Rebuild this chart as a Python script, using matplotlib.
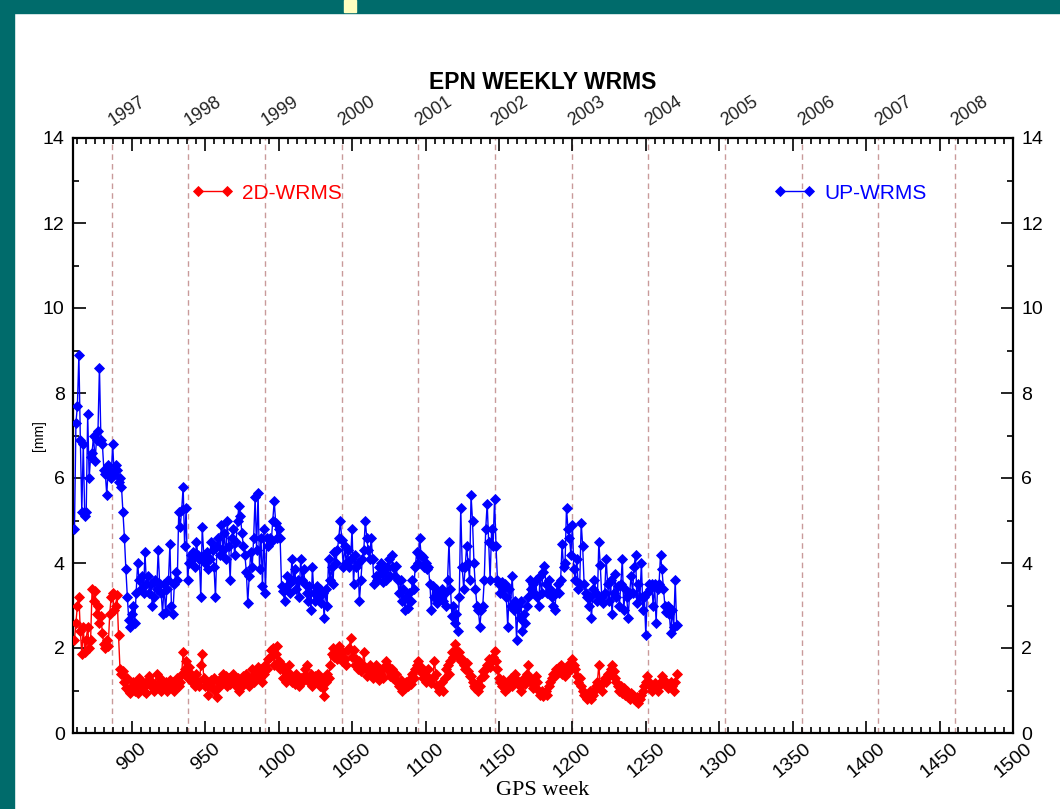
import numpy as np
import matplotlib
matplotlib.use("Agg")
import matplotlib.pyplot as plt
from matplotlib.ticker import MultipleLocator
from matplotlib.patches import Rectangle

plt.rcParams['font.family'] = ['Liberation Sans', 'DejaVu Sans']

# weekly UP-WRMS [mm], GPS weeks 861..1271
up_wrms = [
    4.8, 7.3, 7.7, 8.9, 6.9, 5.2, 6.8, 5.1, 5.2, 7.5,
    6.0, 6.5, 6.6, 7.0, 6.4, 6.9, 7.1, 8.6, 6.9, 6.8,
    6.2, 6.1, 5.6, 6.3, 6.2, 6.0, 6.8, 6.1, 6.3, 6.2,
    5.9, 6.0, 5.8, 5.2, 4.6, 3.85, 3.2, 2.65, 2.5, 2.8,
    3.0, 2.6, 3.3, 4.0, 3.6, 3.4, 3.7, 3.3, 4.25, 3.5,
    3.7, 3.3, 3.5, 3.0, 3.2, 3.6, 3.4, 4.3, 3.5, 3.3,
    2.8, 3.5, 2.85, 3.4, 3.6, 4.45, 3.0, 2.8, 3.5, 3.8,
    3.6, 5.2, 4.85, 5.25, 5.8, 4.4, 5.3, 3.6, 4.0, 4.2,
    4.1, 4.25, 3.9, 4.5, 4.2, 4.1, 3.2, 4.85, 4.2, 4.0,
    4.25, 3.85, 4.1, 4.5, 4.3, 3.9, 3.2, 4.4, 4.6, 4.2,
    4.9, 4.3, 4.7, 4.1, 5.0, 4.4, 3.6, 4.6, 4.8, 4.2,
    4.5, 5.0, 5.35, 5.1, 4.7, 4.4, 4.2, 3.8, 3.07, 3.7,
    4.25, 3.9, 4.6, 5.55, 4.3, 5.65, 3.85, 4.6, 3.45, 4.8,
    3.3, 4.6, 4.4, 4.6, 4.5, 5.0, 5.45, 4.95, 4.6, 4.8,
    4.6, 3.45, 3.35, 3.1, 3.4, 3.7, 3.5, 3.3, 4.1, 3.6,
    3.85, 3.4, 3.6, 3.2, 4.1, 3.6, 3.85, 3.5, 3.3, 3.1,
    3.45, 2.9, 3.9, 3.3, 3.1, 3.45, 3.2, 3.4, 3.05, 3.3,
    2.7, 3.4, 3.0, 4.1, 3.6, 3.9, 3.5, 4.25, 4.0, 4.3,
    4.6, 5.0, 4.55, 3.9, 4.4, 4.0, 4.3, 3.9, 4.1, 4.8,
    3.5, 4.2, 3.9, 4.0, 3.1, 3.6, 4.1, 4.3, 5.0, 4.6,
    4.3, 4.1, 4.6, 4.1, 3.5, 3.7, 3.6, 3.9, 3.75, 4.0,
    3.55, 3.8, 3.6, 3.9, 4.1, 3.7, 4.2, 3.9, 3.7, 3.92,
    3.6, 3.3, 3.6, 3.1, 3.4, 2.9, 3.2, 2.95, 3.3, 3.1,
    3.6, 3.4, 3.9, 4.25, 4.0, 4.6, 4.2, 4.15, 3.9, 4.0,
    3.85, 3.9, 3.5, 2.9, 3.45, 3.2, 3.4, 3.05, 3.3, 3.2,
    3.4, 3.1, 3.3, 3.0, 3.6, 4.5, 3.4, 2.75, 3.0, 2.6,
    2.8, 2.4, 3.2, 5.3, 3.9, 3.4, 3.9, 4.4, 4.0, 3.6,
    5.6, 5.0, 4.0, 3.4, 3.0, 2.9, 2.5, 2.9, 3.0, 3.6,
    4.8, 5.4, 4.5, 3.6, 4.8, 4.4, 5.5, 4.4, 3.6, 3.5,
    3.3, 3.55, 3.4, 3.5, 3.2, 2.5, 3.4, 3.0, 3.7, 2.9,
    3.1, 2.2, 3.0, 2.7, 3.1, 2.4, 2.8, 2.6, 3.0, 3.2,
    3.6, 3.4, 3.5, 3.3, 3.6, 3.2, 3.0, 3.7, 3.3, 3.8,
    3.92, 3.5, 3.3, 3.6, 3.4, 3.2, 3.0, 2.9, 3.3, 3.5,
    3.3, 3.6, 4.45, 3.9, 4.0, 5.3, 4.8, 4.6, 4.2, 4.9,
    3.85, 3.6, 4.1, 3.4, 3.5, 4.95, 4.4, 3.5, 3.3, 3.2,
    3.0, 3.2, 2.7, 3.4, 3.6, 3.3, 3.1, 4.5, 3.95, 3.2,
    3.05, 3.3, 4.1, 3.5, 3.1, 3.6, 2.8, 3.3, 3.75, 3.2,
    3.45, 3.0, 3.5, 4.1, 2.9, 3.4, 3.2, 2.7, 3.3, 3.7,
    3.3, 3.9, 4.2, 3.05, 3.5, 3.2, 4.0, 2.9, 3.2, 2.3,
    3.3, 3.5, 3.4, 3.5, 3.0, 3.5, 2.6, 3.4, 3.5, 4.2,
    3.85, 3.4, 3.0, 2.85, 3.0, 2.8, 2.35, 2.9, 2.5, 3.6, 2.55,
]

# weekly 2D-WRMS [mm], GPS weeks 861..1271
wrms_2d = [
    2.2, 2.6, 3.0, 3.2, 2.4, 1.85, 2.5, 1.9, 2.2, 2.5,
    2.0, 2.2, 3.4, 3.1, 3.35, 2.8, 3.0, 2.6, 2.75, 2.35,
    2.1, 2.0, 2.2, 2.05, 2.8, 3.2, 3.3, 2.9, 3.0, 3.25,
    2.3, 1.5, 1.4, 1.45, 1.2, 1.05, 1.3, 1.0, 0.95, 1.1,
    1.2, 1.0, 1.15, 0.95, 1.3, 1.1, 1.2, 1.0, 1.1, 0.95,
    1.25, 1.35, 1.1, 1.2, 1.0, 1.15, 1.4, 1.1, 1.3, 1.0,
    1.15, 1.05, 1.2, 1.0, 1.1, 1.25, 1.1, 1.2, 1.0, 1.15,
    1.3, 1.1, 1.2, 1.4, 1.9, 1.5, 1.7, 1.3, 1.55, 1.4,
    1.2, 1.3, 1.1, 1.4, 1.2, 1.1, 1.6, 1.85, 1.3, 1.1,
    1.2, 0.9, 1.1, 1.25, 1.05, 1.3, 1.0, 0.85, 1.2, 1.1,
    1.3, 1.4, 1.2, 1.35, 1.1, 1.3, 1.15, 1.25, 1.4, 1.2,
    1.1, 1.3, 1.0, 1.2, 1.1, 1.35, 1.2, 1.4, 1.25, 1.1,
    1.3, 1.5, 1.2, 1.35, 1.4, 1.55, 1.3, 1.5, 1.2, 1.4,
    1.6, 1.5, 1.75, 1.8, 1.95, 2.0, 1.6, 1.85, 2.05, 1.7,
    1.5, 1.6, 1.3, 1.45, 1.2, 1.35, 1.6, 1.4, 1.2, 1.3,
    1.15, 1.4, 1.25, 1.1, 1.3, 1.2, 1.35, 1.5, 1.6, 1.3,
    1.2, 1.4, 1.1, 1.25, 1.35, 1.2, 1.4, 1.1, 1.3, 1.05,
    0.86, 1.2, 1.4, 1.3, 1.6, 1.85, 2.0, 1.8, 1.9, 1.75,
    2.05, 1.85, 1.7, 1.9, 1.75, 1.6, 1.95, 2.0, 2.24, 1.8,
    1.95, 1.6, 1.75, 1.5, 1.7, 1.45, 1.6, 1.9, 1.55, 1.35,
    1.5, 1.6, 1.4, 1.3, 1.45, 1.6, 1.4, 1.25, 1.5, 1.4,
    1.3, 1.55, 1.7, 1.6, 1.45, 1.35, 1.5, 1.3, 1.25, 1.4,
    1.2, 1.1, 1.25, 1.0, 1.15, 1.05, 1.2, 1.1, 1.25, 1.15,
    1.4, 1.3, 1.5, 1.6, 1.7, 1.45, 1.55, 1.3, 1.4, 1.2,
    1.35, 1.5, 1.25, 1.17, 1.3, 1.7, 1.4, 1.1, 1.0, 1.05,
    1.2, 1.0, 1.3, 1.5, 1.6, 1.4, 1.7, 1.9, 1.8, 2.1,
    1.95, 1.8, 1.9, 1.7, 1.75, 1.6, 1.5, 1.65, 1.45, 1.35,
    1.33, 1.2, 1.1, 1.05, 1.15, 1.0, 1.1, 1.3, 1.45, 1.35,
    1.5, 1.6, 1.75, 1.55, 1.7, 1.8, 1.92, 1.7, 1.5, 1.3,
    1.2, 1.1, 1.25, 1.0, 1.15, 1.05, 1.2, 1.3, 1.1, 1.2,
    1.4, 1.25, 1.15, 1.1, 1.0, 1.2, 1.3, 1.15, 1.4, 1.6,
    1.3, 1.2, 1.05, 1.1, 1.33, 1.2, 1.0, 0.9, 1.0, 0.86,
    0.95, 1.0, 0.9, 1.1, 1.2, 1.3, 1.4, 1.35, 1.5, 1.45,
    1.55, 1.6, 1.4, 1.5, 1.35, 1.55, 1.6, 1.45, 1.55, 1.75,
    1.6, 1.5, 1.35, 1.2, 1.3, 1.1, 1.0, 0.9, 0.85, 0.8,
    0.9, 1.0, 0.8, 0.9, 1.0, 1.1, 1.2, 1.6, 1.1, 1.0,
    1.2, 1.3, 1.2, 1.4, 1.35, 1.5, 1.6, 1.45, 1.3, 1.2,
    1.1, 1.0, 1.1, 0.95, 1.05, 0.9, 1.0, 0.85, 0.8, 0.95,
    0.9, 0.8, 0.75, 0.85, 0.7, 0.8, 0.9, 1.0, 1.1, 1.2,
    1.33, 1.2, 1.1, 1.0, 1.1, 1.17, 1.05, 1.0, 1.1, 1.2,
    1.33, 1.25, 1.15, 1.2, 1.05, 1.15, 1.2, 1.1, 1.0, 1.2, 1.4,
]

first_week = 861
weeks_up = first_week + np.arange(len(up_wrms))
weeks_2d = first_week + np.arange(len(wrms_2d))

years = list(range(1997, 2009))
# GPS week of 1 January of each year
year_weeks = [(np.datetime64(f'{y}-01-01') - np.datetime64('1980-01-06')) / np.timedelta64(7, 'D')
              for y in years]

fig = plt.figure(figsize=(10.6, 8.09), dpi=100)
fig.patch.set_facecolor('white')

# slide background strips
teal = '#006B6B'
fig.add_artist(Rectangle((0, 0), 14 / 1060, 1, transform=fig.transFigure, color=teal, zorder=0))
fig.add_artist(Rectangle((0, 1 - 13 / 809), 1, 13 / 809, transform=fig.transFigure, color=teal, zorder=0))
fig.add_artist(Rectangle((344 / 1060, 1 - 12 / 809), 12 / 1060, 12 / 809, transform=fig.transFigure,
                         color='#FFFFC0', zorder=1))

ax = fig.add_axes([73 / 1060, 76 / 809, 940 / 1060, 595 / 809])

for w in year_weeks:
    ax.axvline(w, color='#C99A9A', lw=1.0, ls=(0, (4, 3)), zorder=1)

ax.plot(weeks_2d, wrms_2d, color='#FF0000', lw=1.0, marker='D', ms=4.8, mew=0.6, zorder=3,
        label='2D-WRMS')
ax.plot(weeks_up, up_wrms, color='#0000FF', lw=1.0, marker='D', ms=4.8, mew=0.6, zorder=3,
        label='UP-WRMS')

ax.set_xlim(860, 1500)
ax.set_ylim(0, 14)

ax.yaxis.set_major_locator(MultipleLocator(2))
ax.yaxis.set_minor_locator(MultipleLocator(1))
xt = list(range(900, 1501, 50))
ax.set_xticks(xt)
ax.xaxis.set_minor_locator(MultipleLocator(6.25))
ax.set_xticklabels([str(t) for t in xt], rotation=40, ha='center', va='top')

ax.tick_params(which='both', direction='in', top=True, right=True, labelright=True,
               labelsize=14, width=1.2, colors='black')
ax.tick_params(which='major', length=9)
ax.tick_params(which='minor', length=4.5)
ax.tick_params(axis='x', pad=5)
ax.tick_params(axis='y', pad=6)

for s in ax.spines.values():
    s.set_linewidth(1.6)

for y, w in zip(years, year_weeks):
    ax.annotate(str(y), xy=(w, 1), xycoords=('data', 'axes fraction'), xytext=(2, 6),
                textcoords='offset points', rotation=33, rotation_mode='anchor',
                ha='left', va='bottom', fontsize=13, color='#222222')

ax.set_title('EPN WEEKLY WRMS', fontsize=16.5, fontweight='bold', pad=35)
ax.set_xlabel('GPS week', family=['Liberation Serif', 'DejaVu Serif'], fontsize=16, labelpad=0)
ax.set_ylabel('[mm]', fontsize=10)
ax.yaxis.set_label_coords(-(73 - 46) / 940, 0.5)

handles, labels = ax.get_legend_handles_labels()
leg1 = ax.legend([handles[0]], [labels[0]], loc='center left', frameon=False, borderpad=0,
                 borderaxespad=0, bbox_to_anchor=((192 - 73) / 940, 12.7 / 14), handlelength=2.0,
                 handletextpad=0.4, numpoints=2, fontsize=15, labelcolor='#FF0000')
ax.add_artist(leg1)
ax.legend([handles[1]], [labels[1]], loc='center left', frameon=False, borderpad=0,
          borderaxespad=0, bbox_to_anchor=((774 - 73) / 940, 12.7 / 14), handlelength=2.0,
          handletextpad=0.4, numpoints=2, fontsize=15, labelcolor='#0000FF')

fig.savefig('out.png', dpi=100)
